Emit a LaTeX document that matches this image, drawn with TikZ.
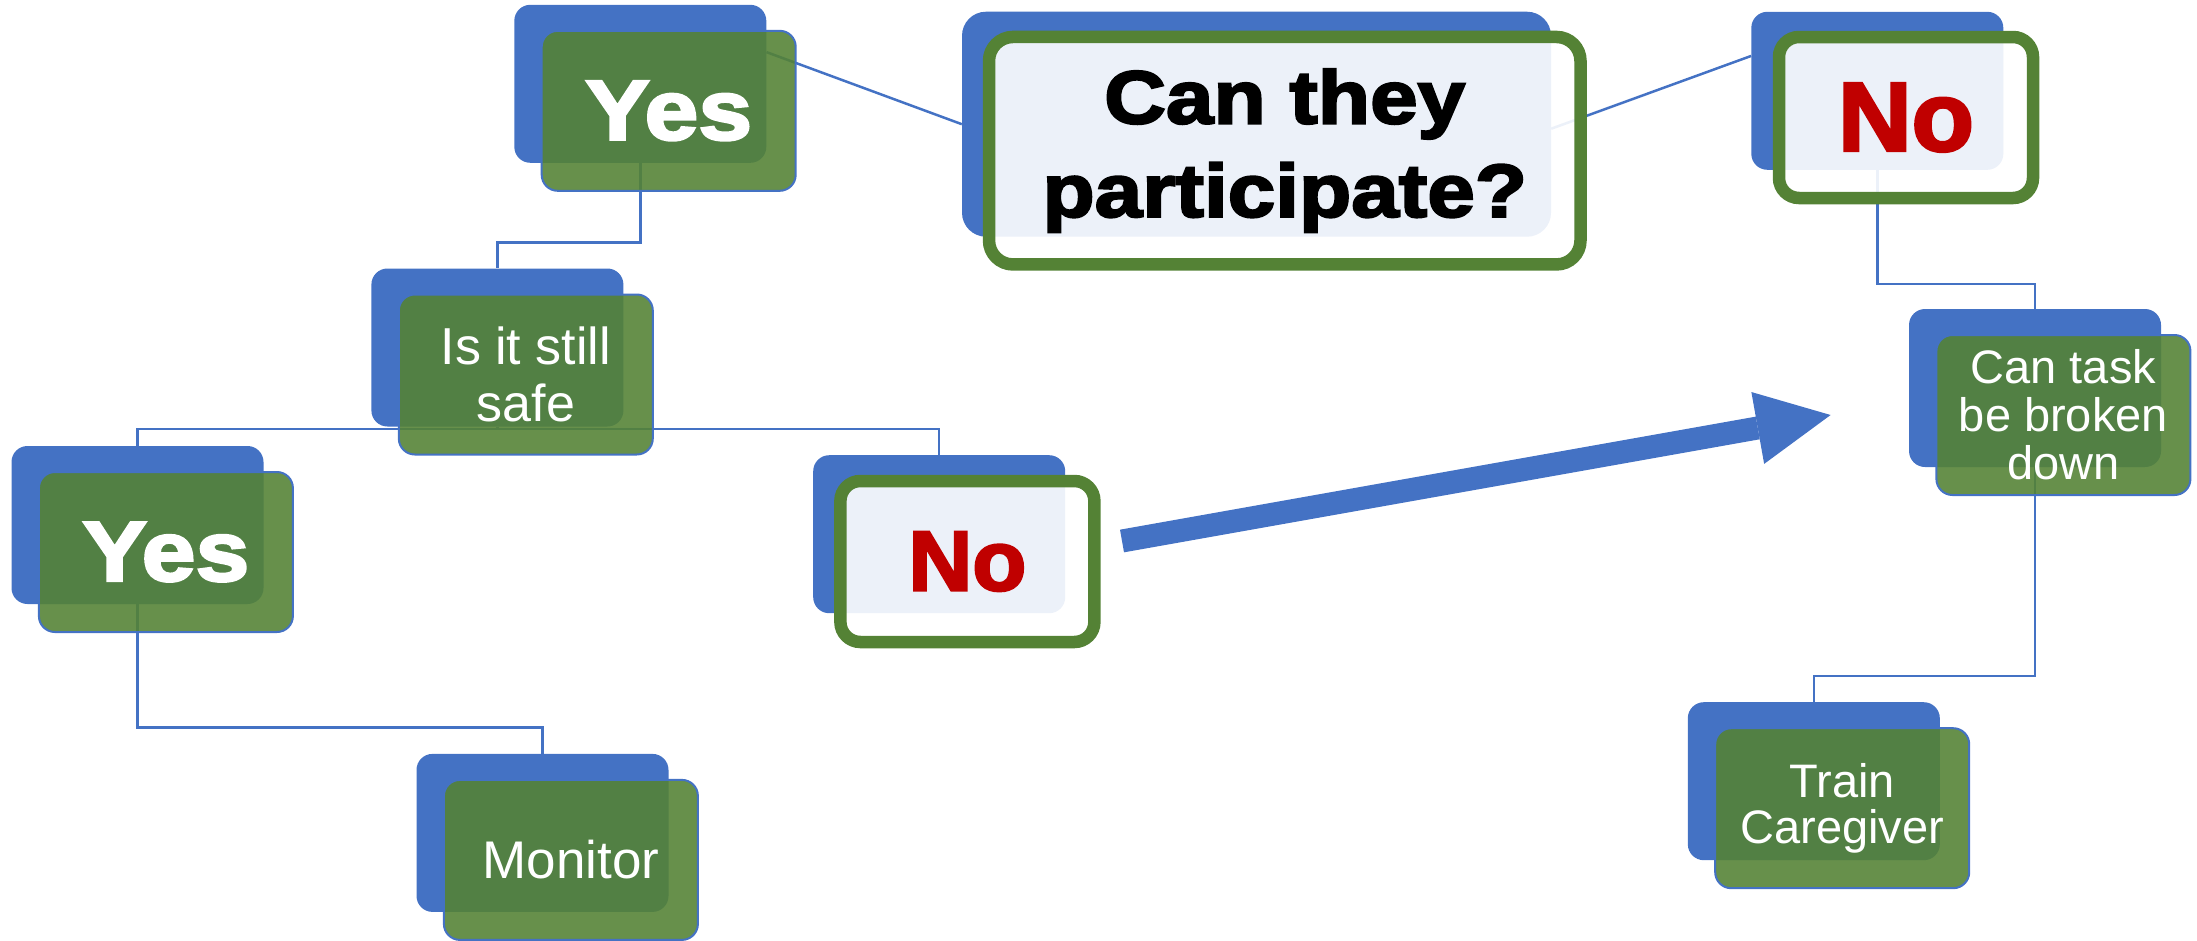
\documentclass[tikz,border=0pt]{standalone}
\usepackage{fontspec}
\setmainfont{Liberation Sans}
\newfontfamily\heavy{Liberation Sans}[FakeStretch=1.14,FakeBold=3]
\newfontfamily\heavyno{Liberation Sans}[FakeStretch=1.04,FakeBold=3]
\usetikzlibrary{calc,arrows.meta}
\definecolor{accblue}{HTML}{4472C4}
\definecolor{accgreen}{HTML}{548235}
\definecolor{nored}{HTML}{C00000}
\tikzset{
  backbox/.style={fill=accblue, rounded corners=16pt, minimum width=252pt, minimum height=158pt, inner sep=0pt},
  frontbox/.style={fill=accgreen, fill opacity=0.89, text opacity=1, draw=accblue, line width=2pt, rounded corners=16pt, minimum width=254pt, minimum height=160pt, inner sep=0pt, text=white, align=center},
  framebox/.style={fill=white, fill opacity=0.9, text opacity=1, draw=accgreen, line width=12.5pt, rounded corners=20pt, minimum width=254pt, minimum height=161pt, inner sep=0pt, align=center},
  conn/.style={draw=accblue, line width=2.5pt},
  bigarrow/.style={draw=accblue, line width=23pt, -{Triangle[length=74pt,width=73pt,line width=0pt]}}
}
\begin{document}
\begin{tikzpicture}[x=1pt,y=-1pt]
\useasboundingbox (0,0) rectangle (2197,940);
% back boxes
\node[backbox] (ytb) at (640.3,83.8) {};
\node[backbox, minimum width=589pt, minimum height=225pt, rounded corners=24pt] (pqb) at (1256.5,124.2) {};
\node[backbox] (ntb) at (1877.3,90.8) {};
\node[backbox] (sfb) at (497.4,347.5) {};
\node[backbox] (ylb) at (137.5,525) {};
\node[backbox] (nmb) at (939.2,534.2) {};
\node[backbox] (mob) at (542.5,832.9) {};
\node[backbox] (ctb) at (2035,388) {};
\node[backbox] (tcb) at (1813.8,781.2) {};
% connectors
\draw[conn] ($(ytb.north east)!0.3!(ytb.south east)$) -- ($(pqb.north west)!0.5!(pqb.south west)$);
\draw[conn] ($(pqb.north east)!0.52!(pqb.south east)$) -- ($(ntb.north west)!0.28!(ntb.south west)$);
\draw[conn] (ytb.south) |- ($(sfb.north)+(0,-26)$) -| (sfb.north);
\draw[conn] (sfb.south) |- ($(ylb.north)+(0,-17)$) -| (ylb.north);
\draw[conn] (sfb.south) |- ($(nmb.north)+(0,-26)$) -| (nmb.north);
\draw[conn] (ylb.south) |- ($(mob.north)+(0,-26)$) -| (mob.north);
\draw[conn] (ntb.south) |- ($(ctb.north)+(0,-25)$) -| (ctb.north);
\draw[conn] (ctb.south) |- ($(tcb.north)+(0,-26)$) -| (tcb.north);
% front boxes
\node[frontbox, font=\heavy\bfseries\fontsize{85}{90}\selectfont] (ytf) at ($(ytb)+(28.4,27)$) {Yes};
\node[framebox, minimum width=591.5pt, minimum height=227.5pt, rounded corners=24pt, text=black, font=\heavy\bfseries\fontsize{75}{93.4}\selectfont] (pqf) at ($(pqb)+(28.25,26.5)$) {Can they\\participate?};
\node[framebox, text=nored, font=\heavyno\bfseries\fontsize{98}{100}\selectfont] (ntf) at ($(ntb)+(28.7,26.7)$) {No};
\node[frontbox, font=\fontsize{52}{56.6}\selectfont] (sff) at ($(sfb)+(28.4,27)$) {Is it still\\safe};
\node[frontbox, font=\heavy\bfseries\fontsize{85}{90}\selectfont] (ylf) at ($(ylb)+(28.4,27)$) {Yes};
\node[framebox, text=nored, font=\heavyno\bfseries\fontsize{85}{90}\selectfont] (nmf) at ($(nmb)+(28.2,27.3)$) {No};
\node[frontbox, font=\fontsize{53}{56}\selectfont] (mof) at ($(mob)+(28.4,27)$) {Monitor};
\node[frontbox, font=\fontsize{47}{48}\selectfont] (ctf) at ($(ctb)+(28.4,27)$) {Can task\\be broken\\down};
\node[frontbox, font=\fontsize{47}{46.7}\selectfont] (tcf) at ($(tcb)+(28.4,27)$) {Train\\Caregiver};
% block arrow
\coordinate (arrtail) at (1122,541);
\coordinate (arrtip) at (1830.6,415);
\draw[bigarrow] (arrtail) -- (arrtip);
\end{tikzpicture}
\end{document}
